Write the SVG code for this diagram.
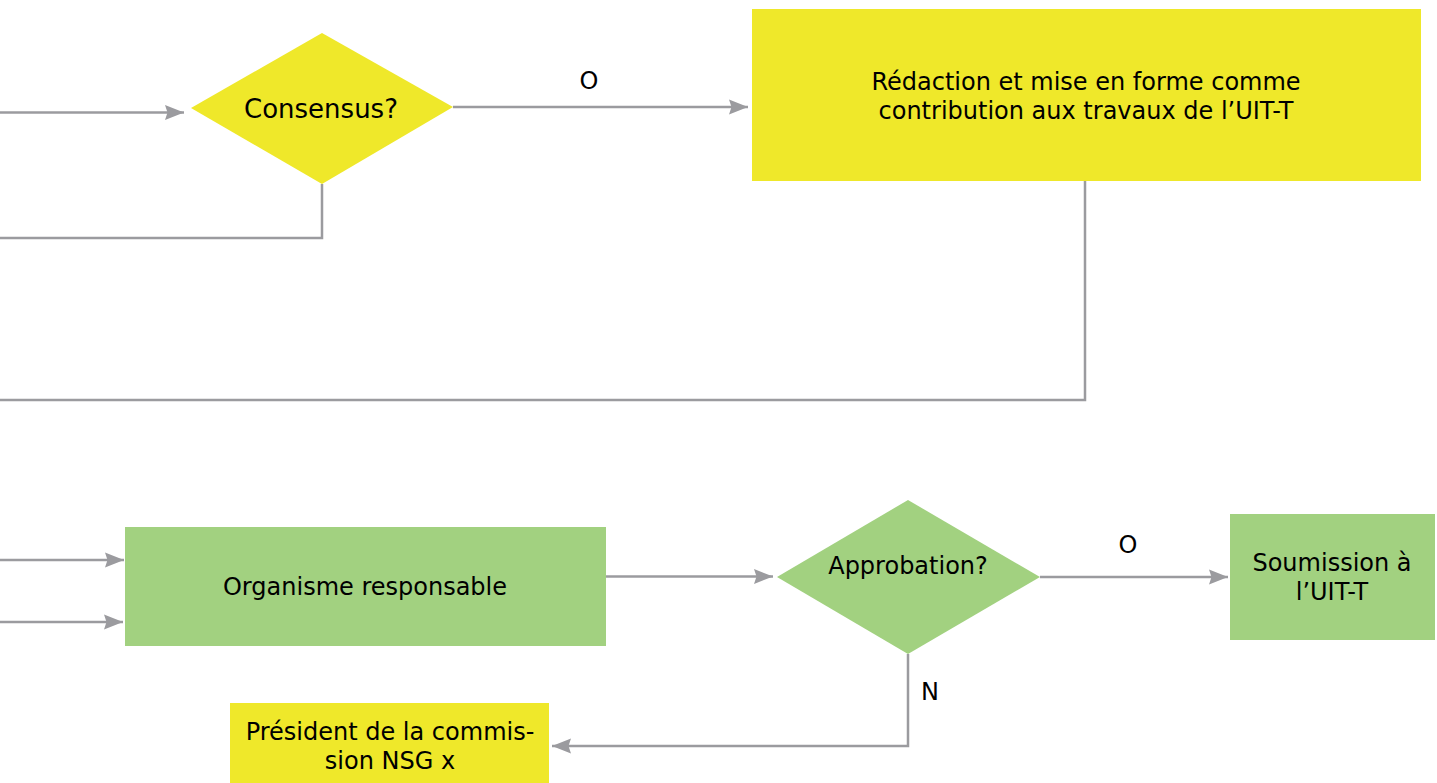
<svg xmlns="http://www.w3.org/2000/svg" width="1437" height="783" viewBox="0 0 1437 783">
<style>
.y{fill:#EFE82A}
.g{fill:#A2D180}
.t{font-family:"DejaVu Sans",Verdana,sans-serif;font-size:24px;fill:#000;text-anchor:middle}
.c{fill:none;stroke:#9B9B9F;stroke-width:2.5}
</style>
<defs>
<marker id="ah" markerUnits="userSpaceOnUse" markerWidth="20" markerHeight="16" refX="19" refY="8" orient="auto">
<path d="M0,0.5 L19,8 L0,15.5 L2.5,8 Z" fill="#9B9B9F"/>
</marker>
</defs>
<g id="connectors">
<path class="c" d="M0,112.5 H184" marker-end="url(#ah)"/>
<path class="c" d="M322,184 V238 H0"/>
<path class="c" d="M453,107 H748" marker-end="url(#ah)"/>
<path class="c" d="M1085,181 V400 H0"/>
<path class="c" d="M0,560 H124" marker-end="url(#ah)"/>
<path class="c" d="M0,622 H123" marker-end="url(#ah)"/>
<path class="c" d="M606,576.5 H773" marker-end="url(#ah)"/>
<path class="c" d="M1040,577 H1228" marker-end="url(#ah)"/>
<path class="c" d="M908,654 V746 H552" marker-end="url(#ah)"/>
<text class="t" x="589" y="89">O</text>
<text class="t" x="1128" y="553">O</text>
<text class="t" x="930" y="700">N</text>
</g>
<g id="consensus">
<polygon class="y" points="191,108 322,33 453,107 322,184"/>
<text class="t" x="321" y="118" style="font-size:26px">Consensus?</text>
</g>
<g id="redaction">
<rect class="y" x="752" y="9" width="669" height="172"/>
<text class="t" x="1086" y="90">Rédaction et mise en forme comme</text>
<text class="t" x="1086" y="119">contribution aux travaux de l’UIT-T</text>
</g>
<g id="organisme">
<rect class="g" x="125" y="527" width="481" height="119"/>
<text class="t" x="365" y="595">Organisme responsable</text>
</g>
<g id="approbation">
<polygon class="g" points="777,577 908,500 1040,577 908,654"/>
<text class="t" x="908" y="574">Approbation?</text>
</g>
<g id="soumission">
<rect class="g" x="1230" y="514" width="205" height="126"/>
<text class="t" x="1332" y="571">Soumission à</text>
<text class="t" x="1332" y="600">l’UIT-T</text>
</g>
<g id="president">
<rect class="y" x="230" y="703" width="319" height="80"/>
<text class="t" x="390" y="740">Président de la commis-</text>
<text class="t" x="390" y="769">sion NSG x</text>
</g>
</svg>
